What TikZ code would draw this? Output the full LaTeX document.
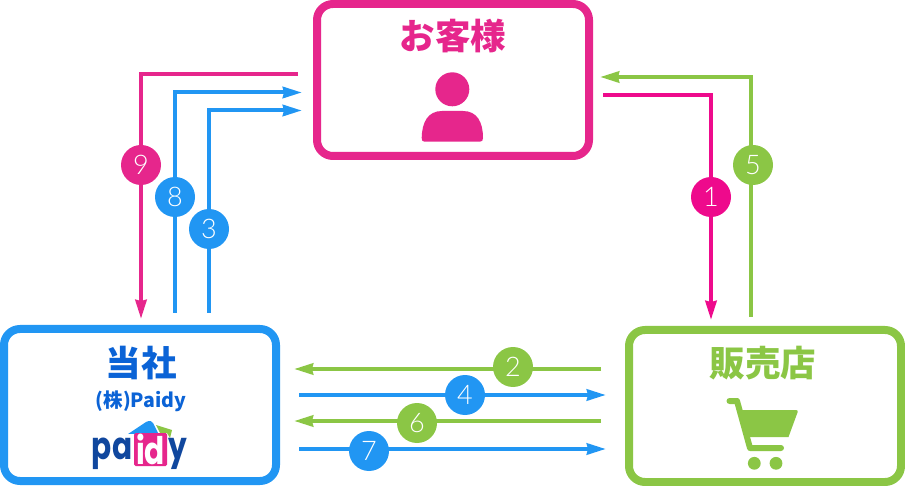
\documentclass[tikz,border=0pt]{standalone}
\usepackage{fontspec}
\setmainfont{Noto Sans CJK JP}
\newfontfamily\numfont{Lato Light}
\newfontfamily\logofont{Poppins}
\usetikzlibrary{arrows.meta}
\definecolor{custpink}{HTML}{E6268C}
\definecolor{linepink}{HTML}{EE0A8C}
\definecolor{paidyblue}{HTML}{2196F3}
\definecolor{titleblue}{HTML}{0B63D6}
\definecolor{logoblue}{HTML}{10479E}
\definecolor{shopgreen}{HTML}{8BC645}
\tikzset{
  box/.style={draw, fill=white, rounded corners=16pt, line width=8pt, inner sep=0pt,
              minimum width=272pt, minimum height=152pt},
  title/.style={font=\fontsize{35.5}{36}\selectfont\bfseries, inner sep=0pt},
  ar/.style={-{Stealth[length=19pt, width=11pt, inset=1pt]}, line width=4pt},
  num/.style={circle, minimum size=40pt, inner sep=0pt, text=white,
              font=\fontsize{27}{27}\selectfont\numfont},
  logo/.style={font=\fontsize{38}{38}\selectfont\logofont\bfseries, inner sep=0pt}
}
\begin{document}
\begin{tikzpicture}[x=1pt,y=-1pt]
  \useasboundingbox (0,0) rectangle (905,486);

  \node[box, draw=custpink] (kyaku) at (453,80) {};
  \node[box, draw=paidyblue] (paidy) at (140,405) {};
  \node[box, draw=shopgreen] (shop) at (765,406) {};

  \node[title, text=custpink] (tkyaku) at (453,36) {お客様};
  \node[title, text=titleblue] (tpaidy) at (141,363) {当社};
  \node[title, text=shopgreen] (tshop) at (763,363) {販売店};
  \node[font=\fontsize{19.5}{20}\selectfont\bfseries, text=titleblue, inner sep=0pt] (tkabu) at (141,401) {(株)Paidy};

  % free ends
  \coordinate (s1) at (603,95);   \coordinate (e1) at (711,320);
  \coordinate (s5) at (751,317);  \coordinate (e5) at (600,77);
  \coordinate (s9) at (298,74.5); \coordinate (e9) at (141,319);
  \coordinate (s8) at (175,313);  \coordinate (e8) at (302,92.5);
  \coordinate (s3) at (209,313);  \coordinate (e3) at (302,110.5);
  \coordinate (s2) at (601,369);  \coordinate (e2) at (294,369);
  \coordinate (s4) at (299,395);  \coordinate (e4) at (606,395);
  \coordinate (s6) at (601,421);  \coordinate (e6) at (294,421);
  \coordinate (s7) at (299,449);  \coordinate (e7) at (606,449);

  \draw[ar, draw=linepink] (s1) -| (e1);
  \draw[ar, draw=shopgreen] (s5) |- (e5);
  \draw[ar, draw=custpink] (s9) -| (e9);
  \draw[ar, draw=paidyblue] (s8) |- (e8);
  \draw[ar, draw=paidyblue] (s3) |- (e3);
  \draw[ar, draw=shopgreen] (s2) -- (e2);
  \draw[ar, draw=paidyblue] (s4) -- (e4);
  \draw[ar, draw=shopgreen] (s6) -- (e6);
  \draw[ar, draw=paidyblue] (s7) -- (e7);

  \node[num, fill=linepink] (n1) at (711,197) {1};
  \node[num, fill=shopgreen] (n2) at (513,367) {2};
  \node[num, fill=paidyblue] (n3) at (209,229) {3};
  \node[num, fill=paidyblue] (n4) at (465,395) {4};
  \node[num, fill=shopgreen] (n5) at (753,165) {5};
  \node[num, fill=shopgreen] (n6) at (417,423) {6};
  \node[num, fill=paidyblue] (n7) at (369,451) {7};
  \node[num, fill=paidyblue] (n8) at (175,197) {8};
  \node[num, fill=custpink] (n9) at (141,165) {9};

  % person
  \fill[custpink] (452.3,89.3) circle (17);
  \fill[custpink] (421.7,138) .. controls (422,122) and (428,111) .. (442,111)
    -- (463,111) .. controls (477,111) and (483,122) .. (483,138)
    .. controls (483,140.5) and (482,141.7) .. (480,141.7) -- (424.5,141.7)
    .. controls (422.5,141.7) and (421.7,140.5) .. (421.7,138) -- cycle;

  % cart
  \draw[shopgreen, line width=6pt, line cap=round, line join=round]
    (729.5,401) -- (737,401) -- (750,448) -- (781,448);
  \fill[shopgreen] (740,410) -- (796,410) .. controls (797.5,410) and (798,411) .. (797.5,412.5)
    -- (788.5,437) -- (747,437) -- cycle;
  \fill[shopgreen] (754.3,463.3) circle (6.4);
  \fill[shopgreen] (776,463.3) circle (6.4);

  % logo
  \fill[paidyblue] (128,434) -- (146,422) .. controls (150,420) and (152,421) .. (153,423)
    -- (158,433) -- cycle;
  \fill[shopgreen] (156,425) -- (172,430) -- (170,438) -- (167,433) -- (160,433) -- cycle;
  \fill[custpink, rounded corners=1.5pt] (134,433) -- (167,433) -- (167,466) -- (134,466) -- cycle;
  \node[logo, text=logoblue, xscale=.78, transform shape] (lpa) at (112,454) {pa};
  \node[logo, text=white, xscale=.78, transform shape] (lid) at (150.5,449) {id};
  \node[logo, text=logoblue, xscale=.78, transform shape] (ly) at (178,454) {y};
\end{tikzpicture}
\end{document}
